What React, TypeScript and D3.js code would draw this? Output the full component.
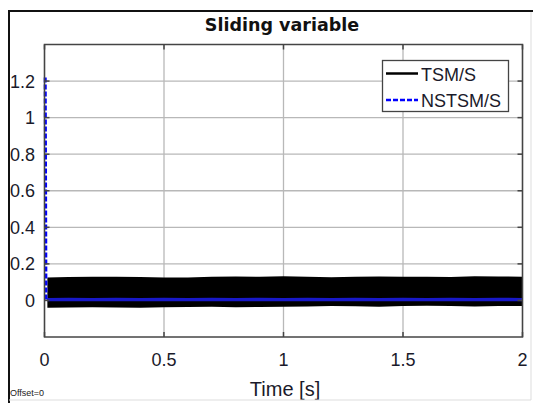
import * as d3 from "d3";
import { useEffect, useRef } from "react";

// values
const xTicks = [0, 0.5, 1, 1.5, 2];
const yTicks = [0, 0.2, 0.4, 0.6, 0.8, 1, 1.2];

// envelope of the fast switching TSM/S signal (dense band)
const envTime = [0.012, 0.1, 0.2, 0.3, 0.4, 0.5, 0.6, 0.7, 0.8, 0.9, 1.0, 1.1, 1.2, 1.3, 1.4, 1.5, 1.6, 1.7, 1.8, 1.9, 2.0];
const tsmUpper = [0.125, 0.128, 0.13, 0.13, 0.128, 0.126, 0.125, 0.129, 0.131, 0.13, 0.132, 0.13, 0.127, 0.13, 0.131, 0.13, 0.129, 0.128, 0.132, 0.131, 0.13];
const tsmLower = [-0.04, -0.039, -0.037, -0.038, -0.04, -0.037, -0.036, -0.035, -0.037, -0.036, -0.034, -0.033, -0.031, -0.032, -0.035, -0.03, -0.029, -0.03, -0.033, -0.03, -0.03];

// NSTSM/S: initial drop then a thin band near zero
const nstsmStartT = [0.003, 0.006];
const nstsmStartV = [1.22, 0.005];
const nstsmUpper = [0.014, 0.015, 0.014, 0.015, 0.014, 0.015, 0.014, 0.015, 0.014, 0.015, 0.014, 0.015, 0.014, 0.015, 0.014, 0.015, 0.014, 0.015, 0.014, 0.015, 0.014];
const nstsmLower = [-0.004, -0.005, -0.004, -0.005, -0.004, -0.005, -0.004, -0.005, -0.004, -0.005, -0.004, -0.005, -0.004, -0.005, -0.004, -0.005, -0.004, -0.005, -0.004, -0.005, -0.004];

const legendNames = ["TSM/S", "NSTSM/S"];

export default function App() {
    const svgRef = useRef<SVGSVGElement>(null);

    useEffect(() => {
        const W = 533, H = 403;
        const L = 44.5, R = 522.5, T = 44.5, B = 337;
        const svg = d3.select(svgRef.current);
        svg.selectAll("*").remove();
        svg.attr("width", W).attr("height", H).style("background", "#fff");

        const font = "'Liberation Sans', Arial, sans-serif";

        svg.append("defs").append("clipPath").attr("id", "frame")
            .append("rect").attr("x", 9).attr("y", 12).attr("width", W - 12).attr("height", H - 15);
        svg.append("defs").append("clipPath").attr("id", "plot")
            .append("rect").attr("x", L).attr("y", T).attr("width", R - L).attr("height", B - T);

        const g = svg.append("g").attr("clip-path", "url(#frame)");

        const x = d3.scaleLinear().domain([0, 2]).range([L, R]);
        const y = d3.scaleLinear().domain([-0.2, 1.4]).range([B, T]);

        // grid
        g.selectAll(".gx").data(xTicks).join("line")
            .attr("x1", (d) => x(d)).attr("x2", (d) => x(d)).attr("y1", T).attr("y2", B)
            .attr("stroke", "#b8b8b8").attr("stroke-width", 1.3);
        g.selectAll(".gy").data(yTicks).join("line")
            .attr("x1", L).attr("x2", R).attr("y1", (d) => y(d)).attr("y2", (d) => y(d))
            .attr("stroke", "#b8b8b8").attr("stroke-width", 1.3);

        const plot = g.append("g").attr("clip-path", "url(#plot)");

        // TSM/S band
        const band = d3.area<number>()
            .x((d, i) => x(envTime[i]))
            .y0((d, i) => y(tsmLower[i]))
            .y1((d) => y(d));
        plot.append("path").attr("d", band(tsmUpper)).attr("fill", "#000");

        // NSTSM/S
        const nBand = d3.area<number>()
            .x((d, i) => x(envTime[i]))
            .y0((d, i) => y(nstsmLower[i]))
            .y1((d) => y(d));
        plot.append("path").attr("d", nBand(nstsmUpper)).attr("fill", "#1818c8");
        const line = d3.line<number>().x((d, i) => x(nstsmStartT[i])).y((d) => y(d));
        g.append("path").attr("d", line(nstsmStartV))
            .attr("fill", "none").attr("stroke", "#0000ff").attr("stroke-width", 3)
            .attr("stroke-dasharray", "5,2");

        // axes box and inward ticks
        g.append("rect").attr("x", L).attr("y", T).attr("width", R - L).attr("height", B - T)
            .attr("fill", "none").attr("stroke", "#444").attr("stroke-width", 1.5);
        xTicks.forEach((t) => {
            g.append("line").attr("x1", x(t)).attr("x2", x(t)).attr("y1", B).attr("y2", B - 5).attr("stroke", "#444").attr("stroke-width", 1.5);
            g.append("line").attr("x1", x(t)).attr("x2", x(t)).attr("y1", T).attr("y2", T + 5).attr("stroke", "#444").attr("stroke-width", 1.5);
        });
        yTicks.forEach((t) => {
            g.append("line").attr("x1", L).attr("x2", L + 5).attr("y1", y(t)).attr("y2", y(t)).attr("stroke", "#444").attr("stroke-width", 1.5);
            g.append("line").attr("x1", R).attr("x2", R - 5).attr("y1", y(t)).attr("y2", y(t)).attr("stroke", "#444").attr("stroke-width", 1.5);
        });

        // tick labels
        g.selectAll(".xl").data(xTicks).join("text")
            .attr("x", (d) => x(d)).attr("y", 366).attr("text-anchor", "middle")
            .style("font-family", font).style("font-size", "18px").attr("fill", "#1a1a2a")
            .text((d) => d3.format("")(d));
        g.selectAll(".yl").data(yTicks).join("text")
            .attr("x", 35).attr("y", (d) => y(d) + 6.5).attr("text-anchor", "end")
            .style("font-family", font).style("font-size", "18px").attr("fill", "#1a1a2a")
            .text((d) => d3.format("")(d));

        // title and labels
        g.append("text").attr("x", 282).attr("y", 31).attr("text-anchor", "middle")
            .style("font-family", "'DejaVu Sans', sans-serif").style("font-weight", "bold").style("font-size", "17.5px")
            .attr("fill", "#111").text("Sliding variable");
        g.append("text").attr("x", 285).attr("y", 396).attr("text-anchor", "middle")
            .style("font-family", font).style("font-size", "20px").attr("fill", "#1a1a2a").text("Time [s]");
        g.append("text").attr("x", 10).attr("y", 396)
            .style("font-family", font).style("font-size", "9px").attr("fill", "#222").text("Offset=0");

        // legend
        g.append("rect").attr("x", 382.5).attr("y", 60.5).attr("width", 126).attr("height", 51)
            .attr("fill", "#fff").attr("stroke", "#444").attr("stroke-width", 1.3);
        const styles = [
            { stroke: "#000", dash: null as string | null },
            { stroke: "#0000ff", dash: "5,2" },
        ];
        legendNames.forEach((name, i) => {
            const ly = 73.5 + i * 26.5;
            g.append("line").attr("x1", 386).attr("x2", 418).attr("y1", ly).attr("y2", ly)
                .attr("stroke", styles[i].stroke).attr("stroke-width", 2.5)
                .attr("stroke-dasharray", styles[i].dash);
            g.append("text").attr("x", 421).attr("y", ly + 7)
                .style("font-family", font).style("font-size", "18px").attr("fill", "#1a1a2a").text(name);
        });

        // figure frame
        svg.append("line").attr("x1", 8).attr("x2", W).attr("y1", 11).attr("y2", 11).attr("stroke", "#111").attr("stroke-width", 2);
        svg.append("line").attr("x1", 9).attr("x2", 9).attr("y1", 10).attr("y2", H).attr("stroke", "#111").attr("stroke-width", 2);
        svg.append("line").attr("x1", 531).attr("x2", 531).attr("y1", 12).attr("y2", 400).attr("stroke", "#ddd").attr("stroke-width", 1);
        svg.append("line").attr("x1", 9).attr("x2", 531).attr("y1", 400).attr("y2", 400).attr("stroke", "#ddd").attr("stroke-width", 1);
    }, []);

    return (
        <div style={{ position: "absolute", left: 0, top: 0 }}>
            <svg ref={svgRef} style={{ display: "block" }} />
        </div>
    );
}
